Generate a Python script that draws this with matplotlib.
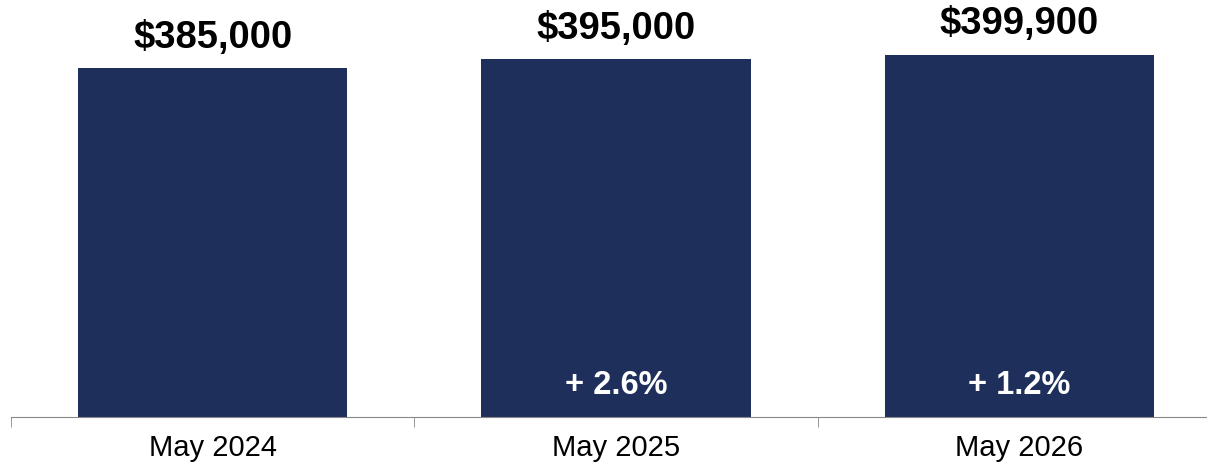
import matplotlib.pyplot as plt
import numpy as np

plt.rcParams['font.family'] = ['Liberation Sans', 'DejaVu Sans']

months = ['May 2024', 'May 2025', 'May 2026']
prices = [385000, 395000, 399900]
changes = ['', '+ 2.6%', '+ 1.2%']

fig = plt.figure(figsize=(12.07, 4.64), dpi=100)
ax = fig.add_axes([11/1207, 46.5/464, 1210/1207, 417.5/464])

x = np.arange(len(months))
ax.bar(x, prices, width=0.667, color='#1f2f5c')

for i in range(len(months)):
    ax.annotate('${:,}'.format(prices[i]), (x[i], prices[i]), xytext=(0, 22.5),
                textcoords='offset points', ha='center', va='center',
                fontsize=27.5, fontweight='bold', color='black')
    if changes[i]:
        ax.annotate(changes[i], (x[i], 0), xytext=(0, 23),
                    textcoords='offset points', ha='center', va='center',
                    fontsize=23.5, fontweight='bold', color='white')

ax.set_xlim(-0.5, 2.5)
ax.set_ylim(0, 461400)
ax.set_xticks(x)
ax.set_xticklabels(months, fontsize=21)
ax.set_xticks([-0.5, 0.5, 1.5, 2.5], minor=True)
ax.tick_params(axis='x', which='major', length=0, pad=12)
ax.tick_params(axis='x', which='minor', length=7.5, color='#888888', direction='out')
ax.set_yticks([])
for s in ['top', 'right', 'left']:
    ax.spines[s].set_visible(False)
ax.spines['bottom'].set_color('#888888')

fig.savefig('out.png', dpi=100)
